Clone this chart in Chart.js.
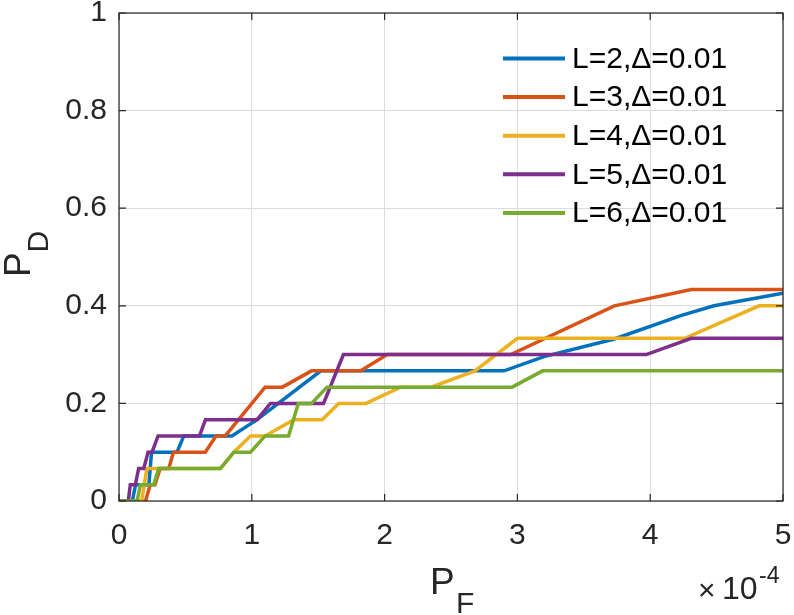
<!DOCTYPE html>
<html>
<head>
<meta charset="utf-8">
<script src="https://cdn.jsdelivr.net/npm/chart.js@4"></script>
<style>
  html, body { margin: 0; padding: 0; background: #fff; }
  #wrap { width: 794px; height: 615px; }
</style>
</head>
<body>
<div id="wrap"><canvas id="roc" width="794" height="615"></canvas></div>
<script>
// x values are in units of 1e-4 (the axis shows x10^-4)
const seriesLabels = ["L=2,\u0394=0.01", "L=3,\u0394=0.01", "L=4,\u0394=0.01", "L=5,\u0394=0.01", "L=6,\u0394=0.01"];
const seriesColors = ["#0072BD", "#D95319", "#EDB120", "#7E2F8E", "#77AC30"];

const pfL2 = [0, 0.10, 0.125, 0.225, 0.245, 0.437, 0.488, 0.85, 1.04, 1.52, 2.9, 3.2, 3.73, 4.23, 4.48, 5];
const pdL2 = [0, 0, 0.0333, 0.0333, 0.1, 0.1, 0.1333, 0.1333, 0.1667, 0.2667, 0.2667, 0.296, 0.332, 0.38, 0.4, 0.426];

const pfL3 = [0, 0.2, 0.235, 0.27, 0.31, 0.375, 0.41, 0.65, 0.73, 0.8, 1.1, 1.23, 1.45, 1.82, 2.02, 2.95, 3.73, 4.31, 5];
const pdL3 = [0, 0, 0.0333, 0.0333, 0.0667, 0.0667, 0.1, 0.1, 0.1333, 0.1333, 0.2333, 0.2333, 0.2667, 0.2667, 0.3, 0.3, 0.4, 0.4333, 0.4333];

const pfL4 = [0, 0.17, 0.21, 0.765, 0.865, 0.99, 1.1, 1.315, 1.53, 1.654, 1.86, 2.12, 2.35, 2.68, 3.0, 4.26, 4.82, 5];
const pdL4 = [0, 0, 0.0667, 0.0667, 0.1, 0.1333, 0.1333, 0.1667, 0.1667, 0.2, 0.2, 0.2333, 0.2333, 0.2667, 0.3333, 0.3333, 0.4, 0.4];

const pfL5 = [0, 0.07, 0.085, 0.123, 0.148, 0.186, 0.219, 0.249, 0.294, 0.606, 0.651, 1.04, 1.14, 1.54, 1.69, 3.97, 4.31, 5];
const pdL5 = [0, 0, 0.0333, 0.0333, 0.0667, 0.0667, 0.1, 0.1, 0.1333, 0.1333, 0.1667, 0.1667, 0.2, 0.2, 0.3, 0.3, 0.3333, 0.3333];

const pfL6 = [0, 0.136, 0.161, 0.261, 0.299, 0.764, 0.865, 0.99, 1.1, 1.277, 1.35, 1.45, 1.566, 2.96, 3.19, 5];
const pdL6 = [0, 0, 0.0333, 0.0333, 0.0667, 0.0667, 0.1, 0.1, 0.1333, 0.1333, 0.2, 0.2, 0.2333, 0.2333, 0.2667, 0.2667];

const xTicks = [0, 1, 2, 3, 4, 5];
const yTicks = [0, 0.2, 0.4, 0.6, 0.8, 1];

const pfAll = [pfL2, pfL3, pfL4, pfL5, pfL6];
const pdAll = [pdL2, pdL3, pdL4, pdL5, pdL6];

const FONT = "'Liberation Sans', Arial, Helvetica, sans-serif";
const INK = "#262626";

// later series sit on top, like matlab plot order
const datasets = seriesLabels.map((lab, i) => ({
  label: lab,
  data: pfAll[i].map((x, k) => ({ x: x, y: pdAll[i][k] })),
  borderColor: seriesColors[i],
  backgroundColor: seriesColors[i],
  borderWidth: 3.5,
  pointRadius: 0,
  tension: 0,
  fill: false,
  order: seriesLabels.length - i
}));

// stop chart.js from adding room for the end labels
function noPad(s) {
  s.paddingLeft = 0; s.paddingRight = 0; s.paddingTop = 0; s.paddingBottom = 0;
}

const framePlugin = {
  id: 'matlabFrame',
  afterDraw(chart) {
    const { ctx, chartArea: a, scales } = chart;
    const xs = scales.x, ys = scales.y;
    ctx.save();

    // box + inward ticks on all four sides
    ctx.strokeStyle = INK;
    ctx.lineWidth = 1.2;
    ctx.strokeRect(a.left, a.top, a.right - a.left, a.bottom - a.top);
    ctx.beginPath();
    xTicks.forEach(v => {
      const px = xs.getPixelForValue(v);
      ctx.moveTo(px, a.bottom); ctx.lineTo(px, a.bottom - 7);
      ctx.moveTo(px, a.top); ctx.lineTo(px, a.top + 7);
    });
    yTicks.forEach(v => {
      const py = ys.getPixelForValue(v);
      ctx.moveTo(a.left, py); ctx.lineTo(a.left + 7, py);
      ctx.moveTo(a.right, py); ctx.lineTo(a.right - 7, py);
    });
    ctx.stroke();

    // legend, no box
    ctx.textBaseline = 'middle';
    ctx.textAlign = 'left';
    ctx.font = "30px " + FONT;
    chart.data.datasets.forEach((ds, i) => {
      const cy = 58.5 + i * 38.6;
      ctx.strokeStyle = ds.borderColor;
      ctx.lineWidth = 4;
      ctx.beginPath();
      ctx.moveTo(503, cy); ctx.lineTo(565, cy);
      ctx.stroke();
      ctx.fillStyle = '#000';
      ctx.fillText(ds.label, 572, cy + 1);
    });

    // axis titles with subscripts
    ctx.fillStyle = INK;
    ctx.textBaseline = 'alphabetic';
    ctx.font = "37px " + FONT;
    ctx.fillText("P", 430, 594);
    ctx.font = "30px " + FONT;
    ctx.fillText("F", 456, 613);

    ctx.save();
    ctx.translate(30, 277);
    ctx.rotate(-Math.PI / 2);
    ctx.font = "37px " + FONT;
    ctx.fillText("P", 0, 0);
    ctx.font = "30px " + FONT;
    ctx.fillText("D", 24.5, 18);
    ctx.restore();

    // exponent note
    ctx.font = "30px " + FONT;
    ctx.fillText("\u00d7", 698, 600);
    ctx.font = "32px " + FONT;
    ctx.fillText("10", 722, 599);
    ctx.font = "23px " + FONT;
    ctx.fillText("-4", 759, 583);

    ctx.restore();
  }
};

new Chart(document.getElementById('roc'), {
  type: 'line',
  data: { datasets: datasets },
  options: {
    responsive: false,
    animation: false,
    layout: { padding: { left: 0, right: 11, top: 13, bottom: 0 } },
    plugins: { legend: { display: false }, tooltip: { enabled: false } },
    scales: {
      x: {
        type: 'linear',
        min: 0, max: 5,
        afterFit: s => { s.height = 114; noPad(s); },
        afterBuildTicks: s => { s.ticks = xTicks.map(v => ({ value: v })); },
        ticks: { color: INK, font: { family: FONT, size: 30 }, padding: 17, maxRotation: 0,
                 callback: v => String(v) },
        grid: { color: '#dcdcdc', lineWidth: 1, drawTicks: false },
        border: { display: false }
      },
      y: {
        type: 'linear',
        min: 0, max: 1,
        afterFit: s => { s.width = 119; noPad(s); },
        afterBuildTicks: s => { s.ticks = yTicks.map(v => ({ value: v })); },
        ticks: { color: INK, font: { family: FONT, size: 30 }, padding: 12,
                 callback: v => String(+v.toFixed(1)) },
        grid: { color: '#dcdcdc', lineWidth: 1, drawTicks: false },
        border: { display: false }
      }
    }
  },
  plugins: [framePlugin]
});
</script>
</body>
</html>
